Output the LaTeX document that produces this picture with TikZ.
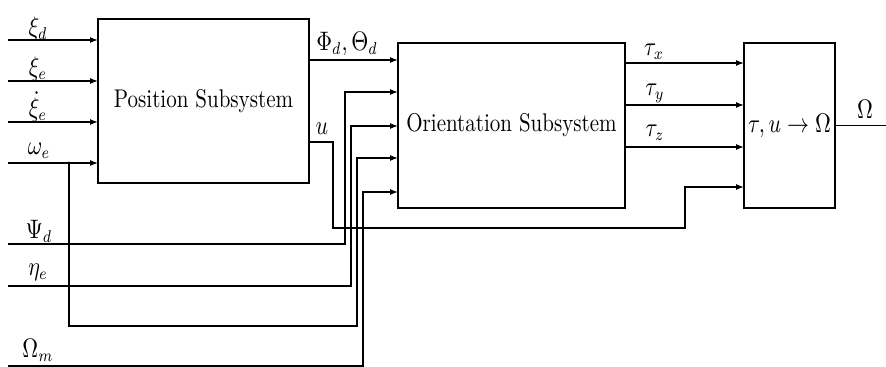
\documentclass[tikz,border=0pt]{standalone}
\usepackage{graphicx}
\usetikzlibrary{arrows.meta}
\newcommand{\vst}[1]{\scalebox{1}[1.22]{#1}}
\begin{document}
\begin{tikzpicture}[x=0.5pt,y=-0.5pt,
  blk/.style={draw, line width=0.6pt, rectangle, inner sep=0pt, outer sep=0pt, font=\fontsize{10.5}{12}\selectfont},
  wire/.style={line width=0.6pt},
  arr/.style={wire, -{Latex[length=4pt,width=3pt]}},
  lbl/.style={inner sep=0pt, font=\fontsize{10.5}{12}\selectfont}]
\useasboundingbox (0,0) rectangle (886,367);
% blocks
\node[blk, minimum width=105.5pt, minimum height=82pt] (pos) at (203.5,101) {\vst{Position Subsystem}};
\node[blk, minimum width=113.5pt, minimum height=82.5pt] (ori) at (511.5,125.5) {\vst{Orientation Subsystem}};
\node[blk, minimum width=45.5pt, minimum height=82.5pt] (map) at (789.5,125.5) {\vst{$\tau,u\rightarrow\Omega$}};
% left inputs
\coordinate (i1) at (8,40);
\coordinate (i2) at (8,81);
\coordinate (i3) at (8,122);
\coordinate (i4) at (8,163);
\coordinate (jn) at (69,163);
\draw[arr] (i1) -- (i1 -| pos.west);
\draw[arr] (i2) -- (i2 -| pos.west);
\draw[arr] (i3) -- (i3 -| pos.west);
\draw[arr] (i4) -- (i4 -| pos.west);
\fill (jn) circle (1.6);
\node[lbl] (l1) at (38,29) {\vst{$\xi_d$}};
\node[lbl] (l2) at (38,69) {\vst{$\xi_e$}};
\node[lbl] (l3) at (38,107) {\vst{$\dot\xi_e$}};
\node[lbl] (l4) at (39,151) {\vst{$\omega_e$}};
% position outputs
\coordinate (phi) at (398,60);
\draw[arr] (pos.east |- phi) -- (phi -| ori.west);
\node[lbl] (lphi) at (347,44) {\vst{$\Phi_d,\Theta_d$}};
\coordinate (ub1) at (333,142);
\coordinate (ub2) at (333,228);
\coordinate (ub3) at (685,228);
\coordinate (ub4) at (685,187);
\draw[arr] (pos.east |- ub1) -- (ub1) -- (ub2) -- (ub3) -- (ub4) -- (ub4 -| map.west);
\node[lbl] (lu) at (322,129) {\vst{$u$}};
% bottom inputs to orientation
\coordinate (p0) at (8,244);
\coordinate (p1) at (345,244);
\coordinate (p2) at (345,92);
\draw[arr] (p0) -- (p1) -- (p2) -- (p2 -| ori.west);
\node[lbl] (lpsi) at (39,231) {\vst{$\Psi_d$}};
\coordinate (e0) at (8,286);
\coordinate (e1) at (351,286);
\coordinate (e2) at (351,126);
\draw[arr] (e0) -- (e1) -- (e2) -- (e2 -| ori.west);
\node[lbl] (leta) at (38,272) {\vst{$\eta_e$}};
\coordinate (w1) at (69,326);
\coordinate (w2) at (357,326);
\coordinate (w3) at (357,158);
\draw[arr] (jn) -- (w1) -- (w2) -- (w3) -- (w3 -| ori.west);
\coordinate (m0) at (8,366);
\coordinate (m1) at (363,366);
\coordinate (m2) at (363,192);
\draw[arr] (m0) -- (m1) -- (m2) -- (m2 -| ori.west);
\node[lbl] (lom) at (38,350) {\vst{$\Omega_m$}};
% orientation outputs
\coordinate (tx) at (625,63);
\coordinate (ty) at (625,105);
\coordinate (tz) at (625,147);
\draw[arr] (tx -| ori.east) -- (tx -| map.west);
\draw[arr] (ty -| ori.east) -- (ty -| map.west);
\draw[arr] (tz -| ori.east) -- (tz -| map.west);
\node[lbl] (ltx) at (654,52) {\vst{$\tau_x$}};
\node[lbl] (lty) at (655,93) {\vst{$\tau_y$}};
\node[lbl] (ltz) at (655,133) {\vst{$\tau_z$}};
% output
\coordinate (oend) at (886,125.5);
\draw[wire] (map.east) -- (oend);
\node[lbl] (lom2) at (865,109) {\vst{$\Omega$}};
\end{tikzpicture}
\end{document}
